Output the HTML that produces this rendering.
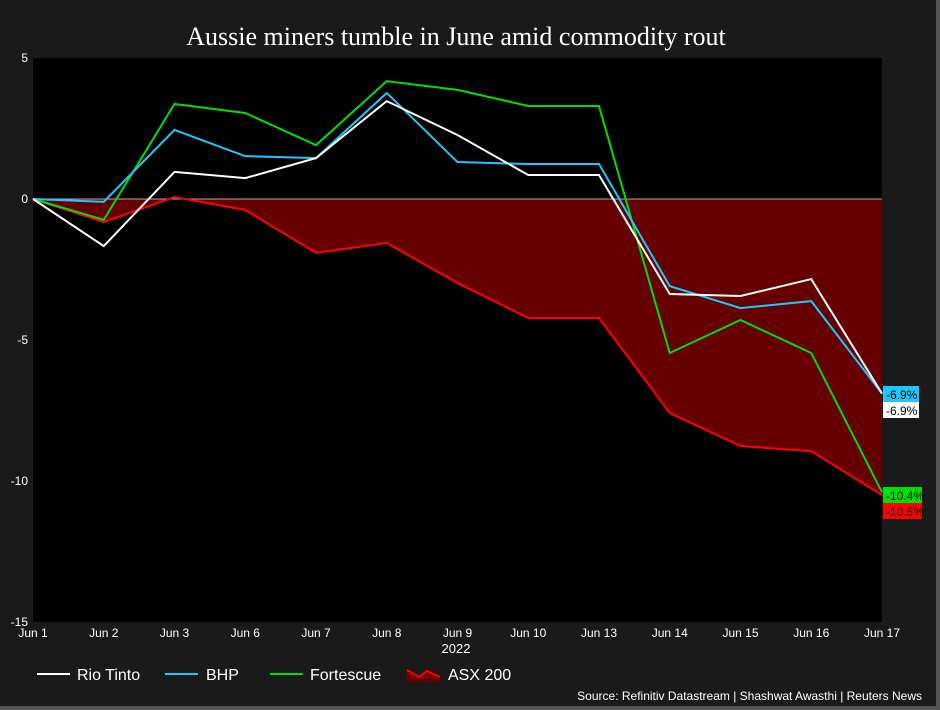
<!DOCTYPE html>
<html><head><meta charset="utf-8"><style>
body{margin:0;background:#1a1a1a;}
svg{display:block;font-family:"Liberation Sans",sans-serif;}
</style></head><body>
<svg width="940" height="710" viewBox="0 0 940 710">
<rect x="0" y="0" width="940" height="710" fill="#1a1a1a"/>
<rect x="936" y="0" width="4" height="710" fill="#555"/>
<rect x="0" y="706" width="940" height="4" fill="#555"/>
<text x="456" y="45" text-anchor="middle" fill="#fff" font-family="Liberation Serif,serif" font-size="26">Aussie miners tumble in June amid commodity rout</text>
<rect x="33" y="58" width="849" height="564" fill="#000"/>
<g id="area"></g>
<line id="zero" stroke="#aaa" stroke-width="1"/>
<g id="lines"></g>
<g id="yticks"></g>
<g id="xticks"></g>
<text x="456" y="653" text-anchor="middle" fill="#fff" font-size="13">2022</text>
<g>
<g><line x1="37" y1="674" x2="70" y2="674" stroke="#fff" stroke-width="2"/><text x="77" y="680" fill="#fff" font-size="16">Rio Tinto</text></g>
<g><line x1="165" y1="674" x2="198" y2="674" stroke="#1ec8ff" stroke-width="2"/><text x="206" y="680" fill="#fff" font-size="16">BHP</text></g>
<g><line x1="270" y1="674" x2="303" y2="674" stroke="#00e000" stroke-width="2"/><text x="310" y="680" fill="#fff" font-size="16">Fortescue</text></g>
<g><path d="M407 682 L407 670 L419 677 L427 671 L440 677 L440 682 Z" fill="#6b0000"/><path d="M407 670 L419 677 L427 671 L440 677" fill="none" stroke="#f00" stroke-width="2"/><text x="448" y="680" fill="#fff" font-size="16">ASX 200</text></g>
</g>
<text x="922" y="700" text-anchor="end" fill="#fff" font-size="12">Source: Refinitiv Datastream | Shashwat Awasthi | Reuters News</text>
<g id="labels"></g>
</svg>
<script>
const categories=["Jun 1","Jun 2","Jun 3","Jun 6","Jun 7","Jun 8","Jun 9","Jun 10","Jun 13","Jun 14","Jun 15","Jun 16","Jun 17"];
const rioTinto=[0,-1.67,0.96,0.74,1.45,3.47,2.27,0.85,0.85,-3.37,-3.44,-2.84,-6.9];
const bhp=[0,-0.1,2.45,1.52,1.45,3.76,1.31,1.24,1.24,-3.09,-3.87,-3.62,-6.9];
const fortescue=[0,-0.74,3.37,3.05,1.91,4.18,3.87,3.3,3.3,-5.46,-4.29,-5.46,-10.4];
const asx200=[0,-0.82,0.07,-0.39,-1.91,-1.56,-2.98,-4.22,-4.22,-7.59,-8.76,-8.94,-10.5];
const yTicks=[5,0,-5,-10,-15];
const NS="http://www.w3.org/2000/svg";
const X0=33,X1=882,Y0=58,Y1=622,YMAX=5,YMIN=-15;
function x(i){return X0+(X1-X0)*i/(categories.length-1);}
function y(v){return Y0+(YMAX-v)/(YMAX-YMIN)*(Y1-Y0);}
function mk(tag,attrs,parent){const e=document.createElementNS(NS,tag);for(const k in attrs)e.setAttribute(k,attrs[k]);parent.appendChild(e);return e;}
const z=document.getElementById('zero');
z.setAttribute('x1',X0);z.setAttribute('x2',X1);z.setAttribute('y1',y(0));z.setAttribute('y2',y(0));
// area
let d="M"+x(0)+" "+y(0);
asx200.forEach((v,i)=>{d+=" L"+x(i)+" "+y(v);});
d+=" L"+x(asx200.length-1)+" "+y(0)+" Z";
const area=mk('path',{d:d,fill:'#660000'},document.getElementById('area'));


const series=[[asx200,'#ff0000','asx-200-line'],[fortescue,'#00e000','fortescue-line'],[bhp,'#1ec8ff','bhp-line'],[rioTinto,'#ffffff','rio-tinto-line']];
const lg=document.getElementById('lines');
series.forEach(s=>{
 const pts=s[0].map((v,i)=>x(i)+","+y(v)).join(" ");
 const p=mk('polyline',{points:pts,fill:'none',stroke:s[1],'stroke-width':2},lg);
 
 
});
const yt=document.getElementById('yticks');
yTicks.forEach(v=>{
 const t=mk('text',{x:28,y:y(v)+4,'text-anchor':'end',fill:'#fff','font-size':12},yt);
 t.textContent=v;
 
 
});
const xt=document.getElementById('xticks');
categories.forEach((c,i)=>{
 const t=mk('text',{x:x(i),y:637,'text-anchor':'middle',fill:'#fff','font-size':12},xt);
 t.textContent=c;
 
 
});
const lb=document.getElementById('labels');
const last=categories.length-1;
const endLabels=[[bhp[last],'#1ec8ff','#000',386],[rioTinto[last],'#ffffff','#000',402],[fortescue[last],'#00e000','#000',487],[asx200[last],'#ff0000','#000',503]];
endLabels.forEach(l=>{
 const g=mk('g',{},lb);
 
 
 mk('rect',{x:883,y:l[3],width:l[0]<=-10?39:36,height:16,fill:l[1]},g);
 const t=mk('text',{x:886,y:l[3]+13,fill:l[2],'font-size':12},g);
 t.textContent=l[0].toFixed(1)+"%";
});
</script>
</body></html>
